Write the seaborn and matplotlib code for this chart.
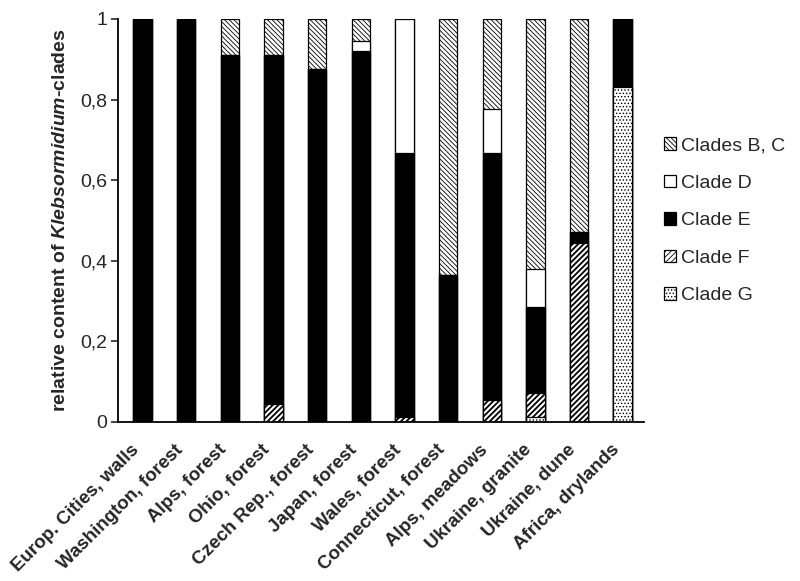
import matplotlib
matplotlib.use("Agg")
import matplotlib.pyplot as plt
import seaborn as sns
import numpy as np
from matplotlib.patches import Patch

# Anteile der Klebsormidium-Kladen je Standort (von unten nach oben gestapelt)
sites = [
    "Europ. Cities, walls", "Washington, forest", "Alps, forest", "Ohio, forest",
    "Czech Rep., forest", "Japan, forest", "Wales, forest", "Connecticut, forest",
    "Alps, meadows", "Ukraine, granite", "Ukraine, dune", "Africa, drylands",
]
clade_g = [0, 0, 0, 0, 0, 0, 0, 0, 0, 0.012, 0, 0.831]
clade_f = [0, 0, 0, 0.045, 0, 0, 0.012, 0, 0.055, 0.06, 0.444, 0]
clade_e = [1, 1, 0.91, 0.865, 0.876, 0.92, 0.655, 0.365, 0.612, 0.213, 0.028, 0.169]
clade_d = [0, 0, 0, 0, 0, 0.025, 0.333, 0, 0.11, 0.095, 0, 0]
clade_bc = [0, 0, 0.09, 0.09, 0.124, 0.055, 0, 0.635, 0.223, 0.62, 0.528, 0]

ytick_vals = [0, 0.2, 0.4, 0.6, 0.8, 1]
ytick_labels = ["0", "0,2", "0,4", "0,6", "0,8", "1"]

# Reihenfolge im Stapel (unten -> oben): Name, Werte, Fuellfarbe, Schraffur, Schraffur-Strichstaerke
layers = [
    ("Clade G", clade_g, "white", ".....", 0.6),
    ("Clade F", clade_f, "white", "//////", 1.3),
    ("Clade E", clade_e, "black", None, 0.6),
    ("Clade D", clade_d, "white", None, 0.6),
    ("Clades B, C", clade_bc, "white", "\\" * 7, 0.6),
]

sns.set_style("ticks")
plt.rcParams["font.family"] = ["Liberation Sans", "DejaVu Sans"]
plt.rcParams["mathtext.fontset"] = "custom"
plt.rcParams["mathtext.it"] = "Liberation Sans:italic:bold"
plt.rcParams["mathtext.rm"] = "Liberation Sans:bold"
plt.rcParams["hatch.linewidth"] = 0.6

fig = plt.figure(figsize=(8, 5.81), dpi=100)
ax = fig.add_axes([0.1475, 0.2737, 0.657, 0.6936])

# kumulierte Hoehen, die hoechste zuerst zeichnen und darueber ueberlagern
cum = np.cumsum([np.array(l[1]) for l in layers], axis=0)
for i in range(len(layers) - 1, -1, -1):
    name, vals, face, hatch, hlw = layers[i]
    n_before = len(ax.patches)
    sns.barplot(x=sites, y=cum[i], order=sites, width=0.42, color=face,
                saturation=1, edgecolor="black", linewidth=0.9, hatch=hatch, ax=ax)
    for p in ax.patches[n_before:]:
        if hasattr(p, "set_hatch_linewidth"):
            p.set_hatch_linewidth(hlw)

ax.set_xlim(-0.56, 11.48)
ax.set_ylim(0, 1)
ax.set_yticks(ytick_vals)
ax.set_yticklabels(ytick_labels, fontsize=14)
ax.set_xticks(range(len(sites)))
ax.set_xticklabels(sites, rotation=45, ha="right", fontsize=13.5, fontweight="bold")
ax.tick_params(axis="x", length=0, pad=14)
ax.tick_params(axis="y", length=5, width=1.2, pad=3, direction="out")
ax.set_xlabel("")
ax.set_ylabel(r"relative content of $\mathit{Klebsormidium}$-clades",
              fontsize=14, fontweight="bold", labelpad=8)
for s in ["left", "bottom"]:
    ax.spines[s].set_linewidth(1.3)
    ax.spines[s].set_color("black")
sns.despine(ax=ax)

handles = []
for name, vals, face, hatch, hlw in reversed(layers):
    h = Patch(facecolor=face, edgecolor="black", hatch=hatch, label=name, linewidth=0.9)
    if hasattr(h, "set_hatch_linewidth"):
        h.set_hatch_linewidth(hlw)
    handles.append(h)
fig.legend(handles=handles, loc="center left", bbox_to_anchor=(0.83, 0.62),
           bbox_transform=fig.transFigure, frameon=False, fontsize=14,
           handlelength=0.6, handleheight=0.6, handletextpad=0.25,
           labelspacing=1.05, borderpad=0, borderaxespad=0)

fig.savefig("out.png", dpi=100)
